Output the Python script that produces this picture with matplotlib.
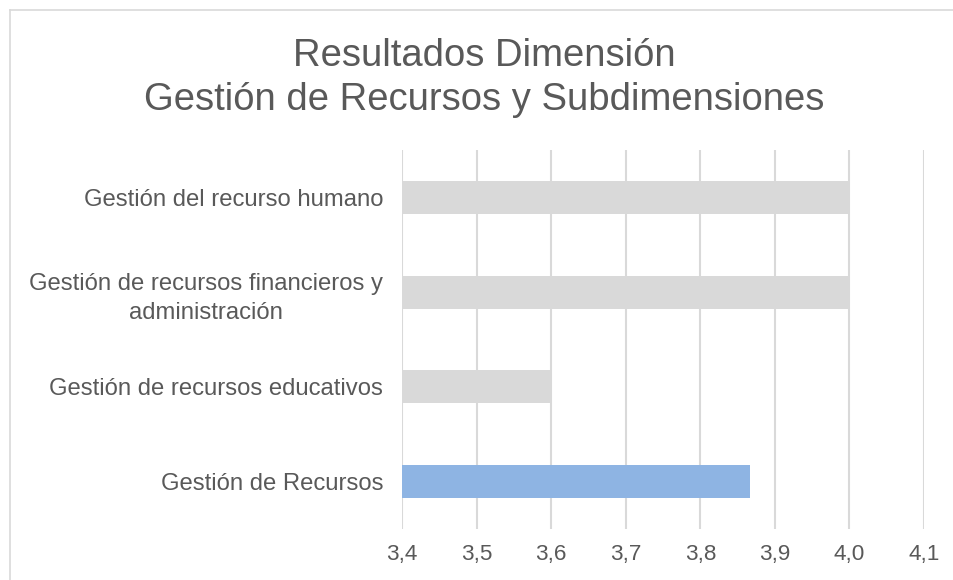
import matplotlib
matplotlib.use("Agg")
import matplotlib.pyplot as plt
from matplotlib.lines import Line2D

plt.rcParams['font.family'] = ['Liberation Sans', 'DejaVu Sans']

categories = ["Gestión del recurso humano",
              "Gestión de recursos financieros y\nadministración",
              "Gestión de recursos educativos",
              "Gestión de Recursos"]
values = [4.0, 4.0, 3.6, 3.867]
colors = ["#D9D9D9", "#D9D9D9", "#D9D9D9", "#8EB4E3"]
xticks = [3.4, 3.5, 3.6, 3.7, 3.8, 3.9, 4.0, 4.1]
xticklabels = ["3,4", "3,5", "3,6", "3,7", "3,8", "3,9", "4,0", "4,1"]
title = "Resultados Dimensión\nGestión de Recursos y Subdimensiones"

W, H = 954, 580
fig = plt.figure(figsize=(W / 100, H / 100), dpi=100)
text_color = "#595959"

# frame border
fig.add_artist(Line2D([10 / W, 10 / W], [0, 1 - 10 / H], color="#D9D9D9", lw=1.2,
                      transform=fig.transFigure))
fig.add_artist(Line2D([10 / W, 1], [1 - 10 / H, 1 - 10 / H], color="#D9D9D9", lw=1.2,
                      transform=fig.transFigure))

left, right = 402 / W, 924 / W
top, bottom = 1 - 150 / H, 1 - 529 / H
ax = fig.add_axes([left, bottom, right - left, top - bottom])

base = 3.4
y = list(range(len(categories)))
ax.barh(y, [v - base for v in values], left=base, height=0.35, color=colors, zorder=3)
ax.set_xlim(3.4, 4.1)
ax.set_ylim(len(categories) - 0.5, -0.5)
ax.set_yticks(y)
ax.set_yticklabels(categories, fontsize=17.2, color=text_color, multialignment="center",
                   linespacing=1.45)
ax.set_xticks(xticks)
ax.set_xticklabels(xticklabels, fontsize=16.2, color=text_color)
ax.tick_params(axis="both", length=0)
ax.tick_params(axis="y", pad=13.5)
ax.tick_params(axis="x", pad=11)
ax.grid(axis="x", color="#D9D9D9", lw=1.5, zorder=0)
ax.set_axisbelow(True)
for s in ax.spines.values():
    s.set_visible(False)

fig.text(484 / W, 1 - 78 / H, title, ha="center", va="center", fontsize=27.5,
         color=text_color, linespacing=1.32)

fig.savefig("out.png", dpi=100)
